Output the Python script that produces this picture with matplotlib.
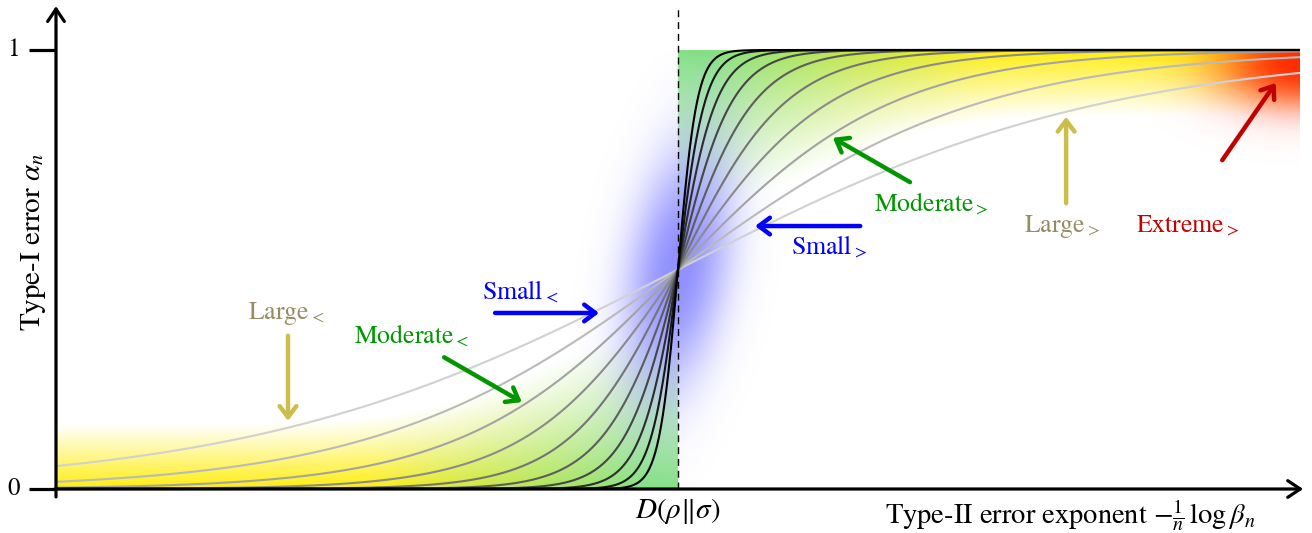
import numpy as np
import matplotlib
matplotlib.use("Agg")
import matplotlib.pyplot as plt

plt.rcParams['font.family'] = ['STIXGeneral', 'DejaVu Serif']
plt.rcParams['mathtext.fontset'] = 'stix'

# ---------------- data ----------------
D_POS = 1.0          # position of D(rho||sigma) on the exponent axis
X_MAX = 2.0          # right end of the curves
steepness = [2.9, 4.1, 5.8, 8.2, 11.6, 16.4, 23.2, 32.8, 46.4, 65.6]
tick_values = [0, 1]
tick_labels = ['0', '1']

labels = [r'Large$_<$', r'Moderate$_<$', r'Small$_<$', r'Small$_>$',
          r'Moderate$_>$', r'Large$_>$', r'Extreme$_>$']
label_xy = [(0.370, 0.400), (0.571, 0.350), (0.746, 0.449), (1.243, 0.551),
            (1.407, 0.649), (1.617, 0.599), (1.820, 0.599)]
arrow_tail = [(0.373, 0.349), (0.624, 0.300), (0.706, 0.401), (1.293, 0.599),
              (1.373, 0.699), (1.624, 0.651), (1.875, 0.749)]
arrow_tip = [(0.373, 0.155), (0.749, 0.198), (0.873, 0.401), (1.124, 0.599),
             (1.249, 0.800), (1.624, 0.848), (1.961, 0.925)]
text_colors = ['#968c64', '#009600', '#0000ff', '#0000ff', '#009600', '#968c64', '#c80000']
arrow_colors = ['#cdbe4b', '#009600', '#0000ff', '#0000ff', '#009600', '#cdbe4b', '#c30000']

# ---------------- figure ----------------
W, H = 1312, 533
fig = plt.figure(figsize=(W / 100, H / 100), dpi=100)
ax = fig.add_axes([0, 0, 1, 1])
PX0, PXS = 56, 622      # pixel of x=0, pixels per unit
PY0, PYS = 489, 439     # pixel of y=0, pixels per unit
ax.set_xlim(-PX0 / PXS, (W - PX0) / PXS)
ax.set_ylim(-(H - PY0) / PYS, PY0 / PYS)
ax.axis('off')

# ---------------- background shading ----------------
nx, ny = 1250, 450
xs = np.linspace(0, X_MAX, nx)
ys = np.linspace(0, 1, ny)
XX, YY = np.meshgrid(xs, ys)
img = np.ones((ny, nx, 3))

yellow = np.array([1.0, 0.93, 0.05])
green = np.array([0.52, 0.88, 0.52])
blue = np.array([0.30, 0.30, 1.0])
red = np.array([1.0, 0.15, 0.0])


def blend(base, col, alpha):
    a = alpha[..., None]
    return base * (1 - a) + col * a


def band(xx, yy):
    mask = (xx <= D_POS).astype(float)
    t = np.clip((xx - 0.5) / 0.45, 0, 1)
    h = 0.15 + 0.22 * np.exp(-((xx - D_POS) / 0.3) ** 2)
    a = np.clip(1 - yy / h, 0, 1) ** 1.1 * mask
    col = yellow * (1 - t[..., None]) + green * t[..., None]
    return col, a


col, a = band(XX, YY)
img = img * (1 - a[..., None]) + col * a[..., None]
col, a = band(2 * D_POS - XX, 1 - YY)
img = img * (1 - a[..., None]) + col * a[..., None]

# blue blob around the crossing point (pixel-space ellipse, tilted)
PXd = (XX - D_POS) * PXS
PYd = (YY - 0.5) * PYS
th = np.deg2rad(10)
u = PXd * np.sin(th) + PYd * np.cos(th)
v = PXd * np.cos(th) - PYd * np.sin(th)
r2 = (u / 125) ** 2 + (v / 50) ** 2
a_blue = 0.62 * np.exp(-r2 ** 1.2)
img = blend(img, blue, a_blue)

# red corner
RX = (XX - X_MAX) * PXS
RY = (YY - 0.97) * PYS
a_red = 0.97 * np.exp(-((RX / 80) ** 2 + (RY / 45) ** 2) ** 1.1)
img = blend(img, red, a_red)

img8 = (np.clip(img, 0, 1) * 255 + 0.5).astype(np.uint8)
ax.imshow(img8, extent=[0, X_MAX, 0, 1], origin='lower', aspect='auto',
          interpolation='bilinear', zorder=0)

# ---------------- curves ----------------
xc = np.linspace(0, X_MAX, 2000)
n = len(steepness)
for i, k in enumerate(steepness):
    g = 0.82 * (1 - i / (n - 1))
    yc = 1 / (1 + np.exp(-k * (xc - D_POS)))
    ax.plot(xc, yc, color=(g, g, g), lw=1.5, zorder=3, solid_capstyle='butt')

# dashed line at D
ax.plot([D_POS, D_POS], [0, 1.096], color='black', lw=1.0, ls=(0, (5, 3.5)), zorder=4)

# ---------------- axes ----------------
axis_kw = dict(arrowstyle='->,head_length=0.45,head_width=0.3', lw=2.3, color='black',
               shrinkA=0, shrinkB=0, mutation_scale=20)
ax.annotate('', xy=(0, 1.10), xytext=(0, -0.018), arrowprops=axis_kw, zorder=5)
ax.annotate('', xy=(X_MAX + 0.005, 0), xytext=(-0.002, 0), arrowprops=axis_kw, zorder=5)
for tv, tl in zip(tick_values, tick_labels):
    ax.plot([-0.043, 0], [tv, tv], color='black', lw=2.3, zorder=5, solid_capstyle='butt')
    ax.text(-0.068, tv, tl, ha='center', va='center', fontsize=18)

ax.text(D_POS, -0.05, r'$D(\rho\|\sigma)$', ha='center', va='center', fontsize=21)
ax.text(1.63, -0.06, r'Type-II error exponent $-\frac{1}{n}\,\log\beta_n$',
        ha='center', va='center', fontsize=20.5)
ax.text(-0.036, 0.562, r'Type-I error $\alpha_n$', ha='center', va='center',
        rotation=90, fontsize=21)

# ---------------- annotations ----------------
for lab, lxy, tail, tip, tc, ac in zip(labels, label_xy, arrow_tail, arrow_tip,
                                       text_colors, arrow_colors):
    ax.text(lxy[0], lxy[1], lab, color=tc, ha='center', va='center', fontsize=18.5, zorder=6)
    ax.annotate('', xy=tip, xytext=tail,
                arrowprops=dict(arrowstyle='->,head_length=0.4,head_width=0.3', lw=3.2,
                                color=ac, shrinkA=0, shrinkB=0, mutation_scale=20),
                zorder=6)

fig.savefig('out.png', dpi=100)
